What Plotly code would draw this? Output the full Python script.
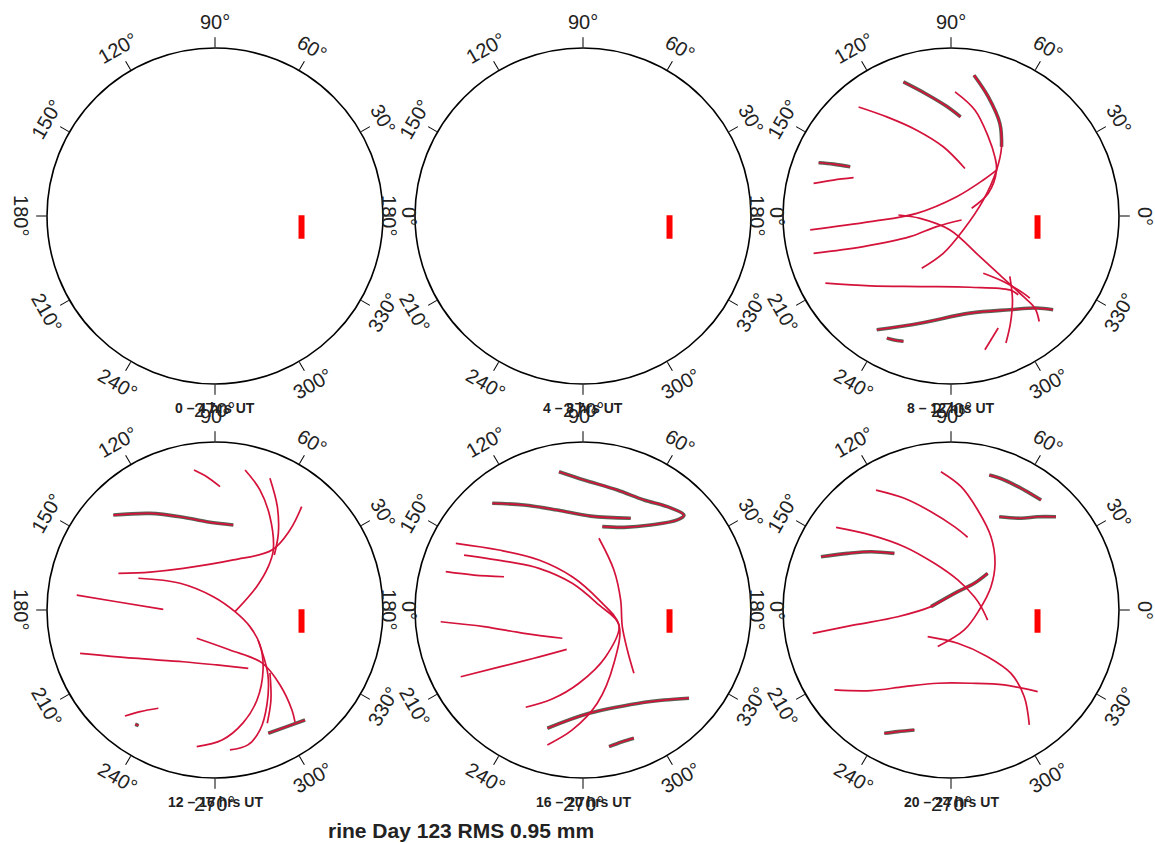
import numpy as np
import plotly.graph_objects as go

# ---------------- data ----------------
PANEL_TITLES = ["0 – 4 hrs UT", "4 – 8 hrs UT", "8 – 12 hrs UT",
                "12 – 16 hrs UT", "16 – 20 hrs UT", "20 – 24 hrs UT"]
MAIN_TITLE = "rine Day 123 RMS 0.95 mm"
ANGLE_TICKS = [0, 30, 60, 90, 120, 150, 180, 210, 240, 270, 300, 330]
ANGLE_LABELS = [f"{a}°" for a in ANGLE_TICKS]

# tracks: (east, north) in percent of the plot radius
P1_TRACKS, P1_NOISY = [], []
P2_TRACKS, P2_NOISY = [], []

P3_TRACKS = [
    ([-28.3, -14.5, -2.6, 5.7], [79.8, 72.5, 65.3, 59.0]),
    ([13.7, 22.2, 29.1, 30.1, 27.1, 19.2, 7.3, -4.6, -17.4], [83.8, 70.9, 55.0, 41.2, 27.3, 9.5, -8.3, -22.2, -31.1]),
    ([13.7, 22.2, 29.1, 30.1], [83.8, 70.9, 55.0, 41.2]),
    ([2.4, 14.3, 22.2, 26.1, 27.1, 22.2, 12.3], [73.9, 63.0, 47.1, 35.2, 27.3, 13.5, 4.6]),
    ([-55.0, -38.2, -20.4, -4.6, 8.3], [64.9, 59.0, 51.1, 41.2, 28.3]),
    ([-83.8, -48.1, -20.4, 3.4, 19.2, 27.1], [-8.3, -3.4, 1.6, 11.5, 21.4, 27.3]),
    ([-81.8, -52.1, -24.4, -8.5, 6.3], [-22.2, -18.2, -12.3, -6.3, -2.4]),
    ([-78.8, -69.9, -60.0], [31.7, 30.9, 29.3]),
    ([-81.8, -69.9, -58.0], [19.4, 21.4, 22.8]),
    ([-31.3, -18.4, -0.6, 17.2, 31.1, 43.0, 49.9, 52.5], [0.6, -1.4, -8.3, -24.2, -37.0, -47.9, -54.8, -62.8]),
    ([-74.8, -48.1, -18.4, 11.3, 35.0, 40.0], [-40.0, -41.6, -42.0, -42.4, -44.0, -46.9]),
    ([-44.2, -18.4, 11.3, 35.0, 50.9, 60.8], [-67.7, -63.8, -57.8, -55.8, -54.8, -55.8]),
    ([-38.2, -33.0, -28.3], [-72.7, -74.0, -74.6]),
    ([19.2, 31.1, 43.0, 46.9], [-34.1, -39.0, -45.9, -48.9]),
    ([35.0, 36.6, 35.4, 32.7], [-36.0, -49.9, -63.8, -75.6]),
    ([28.1, 20.2], [-66.7, -79.6]),
]
P3_NOISY = [True, False, True, False, False, False, False, True, False,
            False, False, True, True, False, False, False]

P4_TRACKS = [
    ([-57.5, -38.7, -18.9, 10.9, 33.9, 44.6, 51.6], [21.8, 22.6, 24.8, 29.8, 35.7, 47.6, 61.5]),
    ([17.9, 26.8, 32.7, 34.7, 31.7, 24.8, 11.9], [83.3, 71.4, 55.5, 35.7, 25.8, 13.9, -1.0]),
    ([32.7, 37.1, 37.7, 35.3], [78.4, 61.5, 45.6, 32.7]),
    ([-45.6, -20.8, -1.0, 11.9, 20.8, 26.8, 28.6, 25.0, 16.7, 4.2, -10.9],
     [18.9, 15.9, 7.9, -1.0, -9.9, -20.8, -35.7, -53.6, -67.2, -77.4, -81.3]),
    ([-10.9, 8.9, 28.0, 38.7, 45.8, 47.6], [-16.8, -23.8, -31.5, -44.6, -59.5, -66.6]),
    ([25.6, 31.5, 30.9, 26.8, 19.6, 8.9], [-17.9, -38.7, -56.5, -71.4, -80.3, -83.3]),
    ([32.7, 33.3, 31.1], [-37.5, -53.6, -67.4]),
    ([31.7, 42.7, 53.6], [-73.4, -69.4, -65.5]),
    ([-80.3, -48.6, -18.9, 1.0, 19.8], [-25.8, -28.7, -30.8, -32.7, -34.7]),
    ([-82.3, -58.5, -30.8], [8.9, 4.9, 0.4]),
    ([-12.5, -4.9, 3.0], [83.3, 79.3, 73.4]),
    ([-60.5, -38.7, -18.9, -4.9, 10.9], [56.5, 57.5, 55.2, 52.5, 50.6]),
    ([-53.6, -44.6, -33.7], [-63.1, -60.5, -58.5]),
    ([-47.5, -45.5], [-68.0, -68.8]),
]
P4_NOISY = [False, False, False, False, False, False, False, True, False,
            False, False, True, False, True]

P5_TRACKS = [
    ([-14.3, 0.6, 20.4, 36.3, 50.2, 60.1, 56.1, 40.3, 24.4, 11.5],
     [82.3, 77.4, 71.4, 65.5, 61.5, 56.5, 53.6, 50.6, 49.2, 49.6]),
    ([-54.0, -35.1, -15.3, 4.6, 28.4], [63.5, 62.5, 59.5, 55.9, 54.6]),
    ([9.5, 18.4, 22.4, 23.4, 26.4, 30.3], [42.7, 23.8, 6.0, -9.9, -23.8, -37.7]),
    ([-75.7, -50.0, -26.2, -6.4, 9.5, 21.4, 18.4, 8.5, -6.4, -21.2],
     [39.7, 35.7, 29.8, 19.8, 6.0, -8.9, -31.7, -55.5, -71.4, -80.3]),
    ([-70.8, -44.0, -26.2, -6.4, 9.5, 21.4, 13.5, -2.4, -18.4, -34.1],
     [32.7, 28.6, 24.8, 15.9, 3.0, -8.9, -27.8, -43.6, -53.0, -57.9]),
    ([-81.7, -64.9, -47.0], [22.8, 20.8, 19.8]),
    ([-84.7, -58.9, -35.1, -12.3], [-7.0, -9.9, -13.9, -16.8]),
    ([-72.8, -49.0, -29.2, -9.7], [-39.7, -33.7, -28.7, -23.4]),
    ([-21.2, 3.6, 33.3, 48.2, 63.1], [-70.4, -61.5, -55.5, -53.6, -52.5]),
    ([15.5, 23.4, 30.3], [-81.3, -78.4, -76.3]),
]
P5_NOISY = [True, True, False, False, False, False, False, False, True, True]

P6_TRACKS = [
    ([-6.0, 6.0, 15.9, 23.8, 26.2, 23.8, 16.8, 7.9, -7.9], [82.3, 73.4, 59.5, 43.6, 27.8, 13.9, 0.0, -11.9, -21.8]),
    ([-44.6, -27.8, -11.9, 2.0, 9.9], [71.4, 66.5, 58.5, 49.6, 43.3]),
    ([22.8, 31.7, 43.6, 53.6], [80.3, 77.4, 71.4, 65.5]),
    ([28.7, 41.7, 51.6, 62.5], [55.5, 54.6, 55.5, 55.5]),
    ([-68.4, -47.6, -27.8, -9.9, 4.0, 13.9, 17.9, 21.8], [49.2, 44.6, 37.7, 27.8, 17.9, 7.9, 2.0, -6.0]),
    ([-77.4, -61.5, -47.6, -33.7], [31.7, 33.7, 34.7, 33.7]),
    ([-82.3, -57.5, -31.7, -11.9, 4.0, 13.9, 21.8], [-13.9, -8.9, -4.0, 2.0, 10.9, 15.9, 21.8]),
    ([-11.9, 4.0, 13.9, 21.8], [2.0, 10.9, 15.9, 21.8]),
    ([-13.9, 4.0, 21.8, 35.7, 43.6, 46.6], [-15.9, -19.8, -27.8, -37.7, -51.6, -68.4]),
    ([-69.4, -47.6, -27.8, -7.9, 11.9, 31.7, 51.6], [-47.6, -48.0, -45.6, -43.6, -43.6, -44.6, -48.6]),
    ([-39.7, -31.7, -21.8], [-73.4, -72.4, -71.4]),
]
P6_NOISY = [False, False, True, True, False, True, False, True, False, False, True]

BAR_E = [51.5, 51.5]
BAR_N = [0.5, -13.5]

PANELS = [(P1_TRACKS, P1_NOISY), (P2_TRACKS, P2_NOISY), (P3_TRACKS, P3_NOISY),
          (P4_TRACKS, P4_NOISY), (P5_TRACKS, P5_NOISY), (P6_TRACKS, P6_NOISY)]

# ---------------- layout geometry ----------------
W, H = 1155, 843
CENTERS = [(215, 216), (583, 216), (951, 216), (215, 610), (583, 610), (951, 610)]
RAD = 168
RED = "#d4123a"
DARK = "rgba(55,75,55,0.85)"
FONT = "Liberation Sans, Arial, sans-serif"


def polar(e, n):
    e = np.asarray(e, float)
    n = np.asarray(n, float)
    return np.hypot(e, n), np.degrees(np.arctan2(n, e)) % 360


fig = go.Figure()
annotations = []
layout_polars = {}

for k, ((cx, cy), (tracks, noisy)) in enumerate(zip(CENTERS, PANELS), start=1):
    sp = "polar" if k == 1 else f"polar{k}"
    layout_polars[sp] = dict(
        domain=dict(x=[(cx - RAD) / W, (cx + RAD) / W],
                    y=[1 - (cy + RAD) / H, 1 - (cy - RAD) / H]),
        bgcolor="white",
        radialaxis=dict(range=[0, 100], visible=False),
        angularaxis=dict(direction="counterclockwise", rotation=0,
                         tickmode="array", tickvals=ANGLE_TICKS,
                         ticks="outside", ticklen=10, tickwidth=1.3, tickcolor="black",
                         showticklabels=False, showgrid=False,
                         showline=True, linecolor="black", linewidth=1.6),
    )
    # noisy underlays first
    for (e, n), nz in zip(tracks, noisy):
        if nz:
            r, th = polar(e, n)
            fig.add_trace(go.Scatterpolar(r=r, theta=th, mode="lines", subplot=sp,
                                          line=dict(color=DARK, width=3.6, shape="spline"),
                                          hoverinfo="skip", showlegend=False))
    for (e, n), nz in zip(tracks, noisy):
        r, th = polar(e, n)
        fig.add_trace(go.Scatterpolar(r=r, theta=th, mode="lines", subplot=sp,
                                      line=dict(color=RED, width=1.7, shape="spline"),
                                      showlegend=False))
    r, th = polar(BAR_E, BAR_N)
    fig.add_trace(go.Scatterpolar(r=r, theta=th, mode="lines", subplot=sp,
                                  line=dict(color="#ff0000", width=6),
                                  showlegend=False))

    # angular tick labels, rotated along the circle
    for a, lab in zip(ANGLE_TICKS, ANGLE_LABELS):
        rr = RAD * 1.155
        px = cx + rr * np.cos(np.radians(a))
        py = cy - rr * np.sin(np.radians(a))
        ang = 90 - (a % 180)
        annotations.append(dict(x=px / W, y=1 - py / H, xref="paper", yref="paper",
                                text=lab, showarrow=False, textangle=ang,
                                xanchor="center", yanchor="middle",
                                font=dict(family=FONT, size=20, color="#222")))
    # panel title
    annotations.append(dict(x=cx / W, y=1 - (cy + RAD + 24) / H, xref="paper", yref="paper",
                            text=f"<b>{PANEL_TITLES[k-1]}</b>", showarrow=False,
                            xanchor="center", yanchor="middle",
                            font=dict(family=FONT, size=14, color="#222")))

annotations.append(dict(x=461 / W, y=1 - 830 / H, xref="paper", yref="paper",
                        text=f"<b>{MAIN_TITLE}</b>", showarrow=False,
                        xanchor="center", yanchor="middle",
                        font=dict(family=FONT, size=21, color="#222")))

fig.update_layout(width=W, height=H, margin=dict(l=0, r=0, t=0, b=0),
                  paper_bgcolor="white", plot_bgcolor="white",
                  showlegend=False, annotations=annotations, **layout_polars)

fig.write_html("out.html")
